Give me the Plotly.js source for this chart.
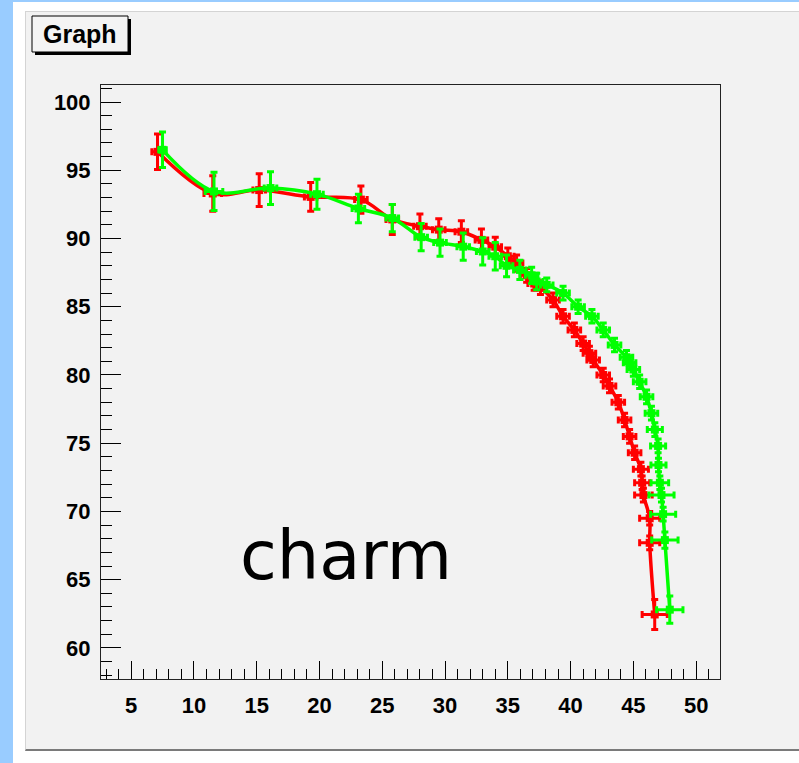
<!DOCTYPE html>
<html>
<head>
<meta charset="utf-8">
<script src="https://cdn.plot.ly/plotly-3.0.1.min.js"></script>
<style>
  html, body { margin: 0; padding: 0; background: #ffffff; width: 799px; height: 763px; overflow: hidden; }
  #blueLeft { position: absolute; left: 0; top: 0; width: 13px; height: 763px; background: #99ccff; }
  #blueTop { position: absolute; left: 0; top: 0; width: 799px; height: 2px; background: #99ccff; }
  #canvasBg { position: absolute; left: 25px; top: 11px; width: 774px; height: 740px; background: #f2f2f2;
              border-top: 1px solid #d4d4d4; border-left: 1px solid #d4d4d4; border-bottom: 2px solid #7a7a7a; box-sizing: border-box; }
  #chart { position: absolute; left: 0; top: 0; width: 799px; height: 763px; }
</style>
</head>
<body>
<div id="blueLeft"></div>
<div id="blueTop"></div>
<div id="canvasBg"></div>
<div id="chart"></div>
<script>
// ---- data ----
const redX  = [7.1, 11.5, 15.2, 19.3, 23.3, 25.8, 28.0, 29.5, 31.3, 32.9, 34.0, 35.0, 35.7, 36.5, 37.1, 37.6, 38.6, 39.4, 40.3, 41.0, 41.5, 41.8, 42.6, 43.1, 43.8, 44.3, 44.7, 45.1, 45.6, 45.7, 45.8, 46.3, 46.3, 46.7];
const redY  = [96.35, 93.3, 93.55, 93.05, 92.85, 91.4, 90.9, 90.65, 90.5, 89.9, 89.4, 88.7, 88.2, 87.3, 86.7, 86.4, 85.5, 84.3, 83.3, 82.3, 81.6, 81.1, 80.0, 79.2, 78.0, 76.7, 75.5, 74.3, 73.1, 72.1, 71.2, 69.5, 67.7, 62.45];
const redEX = [0.45, 0.7, 0.5, 0.5, 0.5, 0.5, 0.5, 0.5, 0.5, 0.5, 0.5, 0.5, 0.5, 0.5, 0.5, 0.5, 0.5, 0.5, 0.5, 0.5, 0.5, 0.5, 0.5, 0.5, 0.5, 0.5, 0.5, 0.5, 0.6, 0.6, 0.7, 0.8, 0.8, 1.0];
const redEY = [1.3, 1.3, 1.2, 1.05, 1.0, 1.1, 0.9, 0.8, 0.8, 0.8, 0.7, 0.6, 0.6, 0.5, 0.5, 0.5, 0.5, 0.5, 0.5, 0.5, 0.5, 0.5, 0.5, 0.5, 0.5, 0.5, 0.5, 0.5, 0.5, 0.5, 0.5, 0.5, 0.5, 1.1];

const greenX  = [7.5, 11.6, 16.1, 19.8, 23.1, 25.8, 28.1, 29.6, 31.45, 33.0, 34.0, 34.9, 35.96, 36.9, 37.3, 38.1, 39.4, 40.6, 41.7, 42.6, 43.5, 44.45, 44.7, 45.0, 45.5, 46.05, 46.44, 46.71, 46.97, 47.0, 47.11, 47.24, 47.37, 47.51, 47.9];
const greenY  = [96.5, 93.45, 93.7, 93.25, 92.2, 91.5, 90.1, 89.7, 89.4, 89.05, 88.7, 88.0, 87.7, 87.3, 86.85, 86.6, 86.0, 85.0, 84.3, 83.3, 82.2, 81.3, 80.9, 80.4, 79.5, 78.4, 77.2, 76.0, 74.8, 73.4, 72.1, 71.2, 69.8, 67.9, 62.8];
const greenEX = [0.3, 0.7, 0.5, 0.5, 0.5, 0.5, 0.5, 0.5, 0.5, 0.5, 0.5, 0.5, 0.5, 0.5, 0.5, 0.5, 0.5, 0.5, 0.5, 0.5, 0.5, 0.5, 0.5, 0.5, 0.5, 0.5, 0.5, 0.6, 0.6, 0.6, 0.7, 1.0, 1.0, 1.05, 1.05];
const greenEY = [1.3, 1.4, 1.2, 1.1, 1.05, 1.0, 1.0, 1.0, 1.0, 1.0, 1.0, 0.8, 0.7, 0.6, 0.6, 0.5, 0.5, 0.5, 0.5, 0.5, 0.5, 0.5, 0.5, 0.5, 0.5, 0.5, 0.5, 0.5, 0.5, 0.5, 0.5, 0.5, 0.5, 0.6, 1.0];

const xTicks = [5, 10, 15, 20, 25, 30, 35, 40, 45, 50];
const yTicks = [60, 65, 70, 75, 80, 85, 90, 95, 100];
const titleText = "Graph";
const noteText = "charm";

function series(xs, ys, ex, ey, color) {
  return {
    type: 'scatter', mode: 'lines+markers',
    x: xs, y: ys,
    line: { color: color, width: 3.5, shape: 'spline', smoothing: 1 },
    marker: { color: color, size: 8, symbol: 'square' },
    error_x: { type: 'data', array: ex, visible: true, color: color, thickness: 3, width: 3.5 },
    error_y: { type: 'data', array: ey, visible: true, color: color, thickness: 3, width: 3.5 },
    showlegend: false, hoverinfo: 'x+y'
  };
}

const data = [
  series(redX, redY, redEX, redEY, '#ff0000'),
  series(greenX, greenY, greenEX, greenEY, '#00ff00')
];

const tickFont = { family: 'Liberation Sans, Arial, sans-serif', size: 22, color: '#000000', weight: 'bold' };

const layout = {
  width: 799, height: 763,
  margin: { l: 101, r: 79, t: 85, b: 84, pad: 0 },
  paper_bgcolor: 'rgba(0,0,0,0)',
  plot_bgcolor: '#f2f2f2',
  showlegend: false,
  xaxis: {
    range: [2.6, 51.9], tickmode: 'array', tickvals: xTicks, ticktext: xTicks.map(String),
    ticks: 'inside', ticklen: 18, tickwidth: 1, tickcolor: '#000',
    minor: { dtick: 1, tick0: 0, ticks: 'inside', ticklen: 10, tickwidth: 1, tickcolor: '#000', showgrid: false },
    showgrid: false, zeroline: false, showline: true, linecolor: '#222', linewidth: 1, mirror: true,
    tickfont: tickFont, ticklabelstandoff: 7
  },
  yaxis: {
    range: [57.72, 101.25], tickmode: 'array', tickvals: yTicks, ticktext: yTicks.map(String),
    ticks: 'inside', ticklen: 20, tickwidth: 1, tickcolor: '#000',
    minor: { dtick: 1, tick0: 0, ticks: 'inside', ticklen: 11, tickwidth: 1, tickcolor: '#000', showgrid: false },
    showgrid: false, zeroline: false, showline: true, linecolor: '#222', linewidth: 1, mirror: true,
    tickfont: tickFont, ticklabelstandoff: 5
  },
  shapes: [
    { type: 'rect', xref: 'paper', yref: 'paper', x0: -0.10662, x1: 0.04847, y0: 1.05051, y1: 1.11111,
      fillcolor: '#000000', line: { width: 0 }, layer: 'above' },
    { type: 'rect', xref: 'paper', yref: 'paper', x0: -0.11147, x1: 0.04362, y0: 1.05556, y1: 1.11616,
      fillcolor: '#f4f4f4', line: { color: '#000000', width: 1 }, layer: 'above' }
  ],
  annotations: [
    { text: titleText, xref: 'paper', yref: 'paper', x: -0.03393, y: 1.08586, xanchor: 'center', yanchor: 'middle',
      showarrow: false, font: { family: 'Liberation Sans, Arial, sans-serif', size: 25, color: '#000', weight: 'bold' } },
    { text: noteText, xref: 'x', yref: 'y', x: 22.15, y: 66.77, xanchor: 'center', yanchor: 'middle',
      showarrow: false, font: { family: 'DejaVu Sans, sans-serif', size: 67, color: '#000' } }
  ]
};

Plotly.newPlot('chart', data, layout, { staticPlot: true, displayModeBar: false });
</script>
</body>
</html>
